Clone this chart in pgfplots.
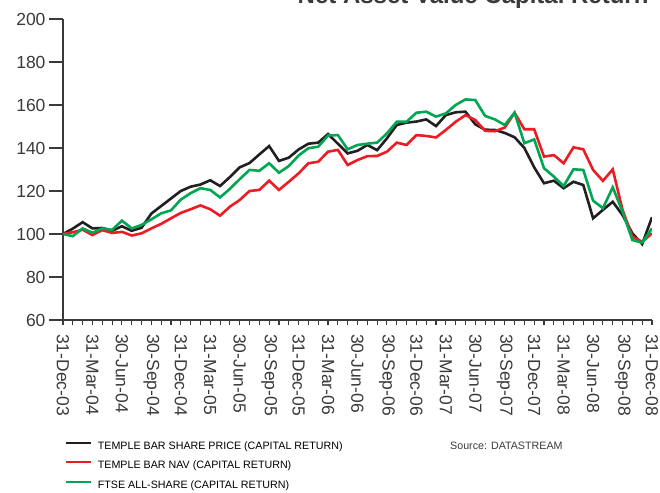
\documentclass[border=0pt]{standalone}
\usepackage{pgfplots}
\pgfplotsset{compat=1.18}
\usepackage{pgfplotstable}
\usepackage{fontspec}
\setmainfont{Liberation Sans}
\definecolor{tbblack}{HTML}{231F20}
\definecolor{tbred}{HTML}{ED1C24}
\definecolor{tbgreen}{HTML}{00A651}
\definecolor{axgray}{HTML}{3A3A3A}

% month index (0 = 31-Dec-03), share price, NAV, FTSE All-Share
\pgfplotstableread{
m black red green
0 100 100 100
1 102.5 100.8 99
2 105.5 102 102.6
3 102.6 99.5 100.6
4 102.8 101.8 102.6
5 101.5 100.5 101.9
6 103.6 101 106.2
7 101.5 99.3 102.6
8 102.9 100.3 104.2
9 109.5 102.6 106.8
10 113 104.7 109.6
11 116.5 107.3 111
12 120 109.8 116
13 122 111.5 119
14 123 113.3 121.3
15 125 111.5 120.5
16 122.3 108.5 117
17 126.5 112.7 121
18 131 115.8 125.5
19 133 120 129.8
20 137 120.5 129.4
21 140.9 124.8 132.9
22 134 120.5 128.5
23 135.5 124.3 131.6
24 139.3 128.2 136.5
25 142 132.9 139.9
26 142.5 133.6 140.6
27 146.5 138.3 145.8
28 142 139.1 146
29 137.5 132.1 139.4
30 138.7 134.4 141.4
31 141.4 136.2 142
32 139 136.3 142.5
33 144.5 138.3 146.8
34 150.7 142.5 152.2
35 151.8 141.4 152.2
36 152.3 146 156.4
37 153.3 145.6 156.9
38 150.2 144.9 154.6
39 155.3 148.4 156.1
40 156.6 152.2 160
41 156.9 155.3 162.6
42 151 153 162.3
43 148.5 148 154.9
44 148.4 147.8 153.3
45 147 149.5 150.7
46 145 156.4 156.4
47 140 148.7 142.2
48 131 148.7 144
49 123.6 136 130.6
50 124.8 136.7 126.7
51 121.3 132.9 122.3
52 124.3 140.3 130.1
53 122.8 139.4 129.8
54 107.3 129.8 115.5
55 111.2 124.7 112
56 115 130.1 121.7
57 108.8 111.2 110.4
58 100.3 98.8 97.2
59 95.3 96.4 96
60 107.8 100.3 102.6
}\navdata

\begin{document}
\begin{tikzpicture}
\begin{axis}[
  scale only axis, width=589bp, height=301bp,
  xmin=0, xmax=60, ymin=60, ymax=200,
  axis x line=bottom, axis y line=left,
  axis line style={-, axgray, line width=1.1bp},
  tick align=outside, major tick length=14bp, minor tick length=5bp,
  tick style={axgray, line width=1.1bp},
  every major x tick/.append style={opacity=0},
  ytick={60,80,...,200},
  xtick={0,3,...,60}, minor xtick={0,...,60},
  xticklabels={31-Dec-03,31-Mar-04,30-Jun-04,30-Sep-04,31-Dec-04,31-Mar-05,30-Jun-05,30-Sep-05,31-Dec-05,31-Mar-06,30-Jun-06,30-Sep-06,31-Dec-06,31-Mar-07,30-Jun-07,30-Sep-07,31-Dec-07,31-Mar-08,30-Jun-08,30-Sep-08,31-Dec-08},
  /pgf/number format/assume math mode=true,
  ticklabel style={font=\fontsize{17.5bp}{20bp}\selectfont, text=axgray},
  xticklabel style={rotate=-90, anchor=west, inner sep=0pt},
  legend style={at={(axis description cs:0,0)}, anchor=north west,
    xshift=2bp, yshift=-121bp, draw=none, fill=none, inner sep=0pt,
    row sep=9bp, column sep=6bp, font=\fontsize{10.7bp}{13bp}\selectfont,
    nodes={inner sep=0pt, text height=8bp, text depth=2.5bp}},
  legend cell align=left,
  legend image code/.code={\draw[#1] (0bp,3.8bp) -- (25bp,3.8bp);},
]
\addplot[tbblack, line width=2.6bp, forget plot] table[x=m, y=black]{\navdata};
\addplot[tbred, line width=2.6bp, forget plot] table[x=m, y=red]{\navdata};
\addplot[tbgreen, line width=2.6bp, forget plot] table[x=m, y=green]{\navdata};
\addlegendimage{draw=tbblack, line width=1.7bp}
\addlegendentry{TEMPLE BAR SHARE PRICE (CAPITAL RETURN)}
\addlegendimage{draw=tbred, line width=1.7bp}
\addlegendentry{TEMPLE BAR NAV (CAPITAL RETURN)}
\addlegendimage{draw=tbgreen, line width=1.7bp}
\addlegendentry{FTSE ALL-SHARE (CAPITAL RETURN)}
\end{axis}
\node[anchor=base east, font=\bfseries\fontsize{24bp}{28bp}\selectfont, text=axgray] at (589bp,316.5bp) {Net Asset Value Capital Return};
\node[anchor=base west, inner sep=0pt, font=\fontsize{10.7bp}{13bp}\selectfont, text=axgray] at (387bp,-129bp) {Source: DATASTREAM};
\pgfresetboundingbox
\useasboundingbox (-63bp,-173bp) rectangle (597bp,320bp);
\end{tikzpicture}
\end{document}
